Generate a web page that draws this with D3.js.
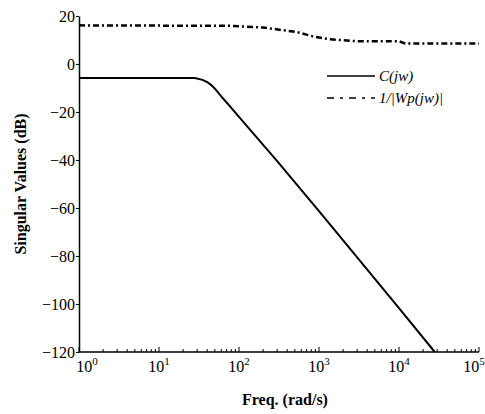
<!DOCTYPE html>
<html>
<head>
<meta charset="utf-8">
<script src="https://cdn.jsdelivr.net/npm/d3@7"></script>
<style>
  body { margin: 0; background: #fff; }
  svg text { font-family: "Liberation Serif", "DejaVu Serif", serif; fill: #000; }
</style>
</head>
<body>
<svg id="svg" width="485" height="414"></svg>
<script>
// C(jw) singular values
var cFreq = [1, 28, 35, 40, 45, 50, 60, 77, 100, 300, 1000, 3000, 10000, 28000];
var cDb = [-5.8, -5.8, -6.6, -7.5, -8.8, -10.3, -13.5, -17.6, -22, -40.5, -61.3, -80.6, -101.7, -120];

// 1/|Wp(jw)|
var wFreq = [1, 77, 200, 530, 840, 1370, 3000, 10000, 12000, 100000];
var wDb = [16.1, 15.9, 15.2, 13.3, 11.5, 10.3, 9.5, 9.5, 8.5, 8.5];

var yTicks = [20, 0, -20, -40, -60, -80, -100, -120];
var xTicks = [1, 10, 100, 1000, 10000, 100000];
var legendLabels = ["C(jw)", "1/|Wp(jw)|"];

var serif = "'Liberation Serif', 'DejaVu Serif', serif";

var svg = d3.select("#svg");
var padding = { top: 16, right: 6, bottom: 62, left: 79 };
var ChartArea = {
  width: 485 - padding.left - padding.right,
  height: 414 - padding.top - padding.bottom
};

var xScale = d3.scaleLog().domain([1, 100000]).range([0, ChartArea.width]);
var yScale = d3.scaleLinear().domain([-120, 20]).range([ChartArea.height, 0]);

var g = svg.append("g")
  .attr("transform", "translate(" + padding.left + "," + padding.top + ")");

// y axis
var yAxis = g.append("g")
  .call(d3.axisLeft(yScale).tickValues(yTicks).tickSize(3).tickSizeOuter(0))
  .attr("font-family", serif)
  .attr("font-size", 16);
yAxis.select(".domain").attr("stroke-width", 1.5);
yAxis.selectAll("text").attr("x", -4).attr("dy", "0.35em");

// x axis: minor ticks pointing up, labels 10^n
var minor = [];
for (var e = 0; e < 5; e++) {
  for (var m = 2; m <= 9; m++) minor.push(m * Math.pow(10, e));
}
var xAxis = g.append("g")
  .attr("transform", "translate(0," + ChartArea.height + ")")
  .attr("font-family", serif);
xAxis.append("line")
  .attr("x1", 0).attr("x2", ChartArea.width)
  .attr("stroke", "#000").attr("stroke-width", 1.5);
xAxis.selectAll(".minor")
  .data(minor).enter().append("line")
  .attr("x1", d => xScale(d)).attr("x2", d => xScale(d))
  .attr("y1", 0).attr("y2", -3)
  .attr("stroke", "#000").attr("stroke-width", 1);
xAxis.selectAll(".major")
  .data(xTicks).enter().append("line")
  .attr("x1", d => xScale(d)).attr("x2", d => xScale(d))
  .attr("y1", 0).attr("y2", -5)
  .attr("stroke", "#000").attr("stroke-width", 1);
var xl = xAxis.selectAll(".lbl")
  .data(xTicks).enter().append("text")
  .attr("font-size", 16)
  .attr("y", 20)
  .attr("x", (d, i) => {
    var x = xScale(d);
    if (i === 0) x += 8;
    if (i === xTicks.length - 1) x -= 5;
    return x;
  })
  .attr("text-anchor", "middle");
xl.append("tspan").text("10");
xl.append("tspan").attr("font-size", 11).attr("dy", -7).text(d => Math.round(Math.log10(d)));

// lines
var line = d3.line().x(d => xScale(d[0])).y(d => yScale(d[1]));

g.append("path")
  .datum(cFreq.map((f, i) => [f, cDb[i]]))
  .attr("d", line)
  .attr("fill", "none").attr("stroke", "#000").attr("stroke-width", 2);

g.append("path")
  .datum(wFreq.map((f, i) => [f, wDb[i]]))
  .attr("d", line)
  .attr("fill", "none").attr("stroke", "#000").attr("stroke-width", 2.5)
  .attr("stroke-dasharray", "6,3,2,3");

// legend
var leg = svg.append("g").attr("transform", "translate(327,76)");
leg.append("line").attr("x1", 0).attr("x2", 48).attr("y1", 0).attr("y2", 0)
  .attr("stroke", "#000").attr("stroke-width", 1.3);
leg.append("line").attr("x1", 0).attr("x2", 48).attr("y1", 22).attr("y2", 22)
  .attr("stroke", "#000").attr("stroke-width", 1.3)
  .attr("stroke-dasharray", "7,6,3,6");
leg.selectAll("text").data(legendLabels).enter().append("text")
  .attr("x", 52).attr("y", (d, i) => 5 + i * 22)
  .attr("font-size", 15).attr("font-style", "italic")
  .text(d => d);

// axis titles
svg.append("text")
  .attr("transform", "translate(26," + (padding.top + ChartArea.height / 2) + ") rotate(-90)")
  .attr("text-anchor", "middle")
  .attr("font-size", 16).attr("font-weight", "bold")
  .text("Singular Values (dB)");

svg.append("text")
  .attr("x", 285).attr("y", 405)
  .attr("text-anchor", "middle")
  .attr("font-size", 16).attr("font-weight", "bold")
  .text("Freq. (rad/s)");
</script>
</body>
</html>
